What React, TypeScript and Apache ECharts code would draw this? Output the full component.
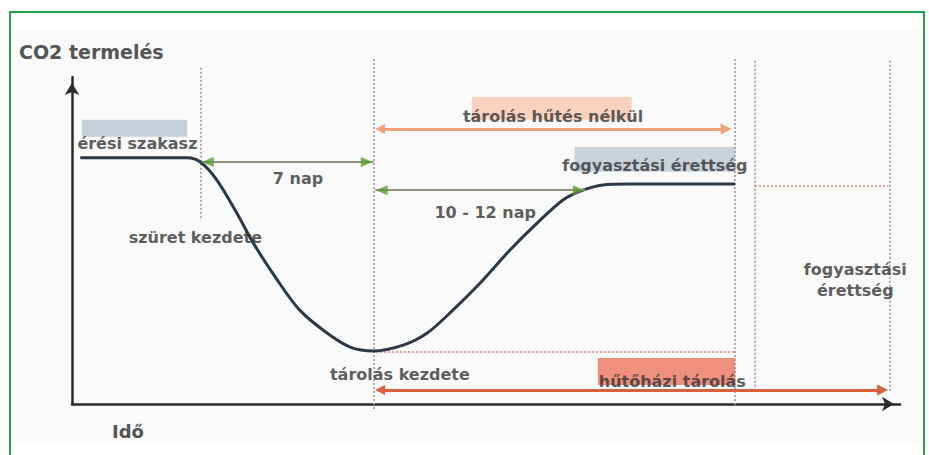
import React, { useEffect, useRef } from "react";
import * as echarts from "echarts";

// Curve: CO2 production over time (abstract units, 0..100)
const curveTime = [1, 13.9, 15.5, 17.5, 19.9, 21.9, 24.8, 27.5, 30.8, 33.6, 36.4, 40, 42.9, 46, 49.3, 52.9, 56.2, 59.3, 61.7, 64.1, 67.4, 80.1];
const curveCO2 = [75.3, 75.3, 74, 68.5, 58.4, 49.2, 37.9, 28.7, 21.7, 17.4, 16.2, 18, 21.7, 28.7, 37, 47.1, 55.4, 62.4, 65.4, 67, 67.3, 67.3];

// Vertical dotted guides
const guideX = [15.5, 36.4, 80.1, 82.4, 98.8];
const guideTop = [102.8, 105.5, 105.5, 105, 105];
const guideBottom = [56.3, -1.8, -0.3, 4.3, 4];

// Horizontal dotted levels
const levelY = [66.7, 15.9];
const levelFrom = [82.5, 36.7];
const levelTo = [98.6, 80.1];

// Arrow spans
const coolFreeY = 84.1, coolFreeFrom = 37.2, coolFreeTo = 79.0;
const coldY = 4.3, coldFrom = 37.2, coldTo = 97.9;
const greenY = [74.0, 65.4];
const greenFrom = [15.7, 36.6];
const greenTo = [36.4, 62.0];
const greenHeadX = [16.4, 35.6, 37.4, 61.2];
const greenHeadY = [74.0, 74.0, 65.4, 65.4];
const greenHeadDir = [90, -90, 90, -90];

// Highlight boxes behind labels
const boxFrom = [[1.2, 81.7], [48.3, 86.9], [60.7, 71.0], [63.5, 5.8]];
const boxTo = [[13.9, 86.9], [67.6, 93.9], [80.1, 78.6], [80.1, 14.1]];
const boxColors = ["#c6d0da", "#f9d3c0", "#c9d2db", "#ee907d"];

// Labels
const labelNames = [
  "érési szakasz",
  "7 nap",
  "tárolás hűtés nélkül",
  "fogyasztási érettség",
  "10 - 12 nap",
  "szüret kezdete",
  "tárolás kezdete",
  "hűtőházi tárolás",
  "fogyasztási\nérettség",
];
const labelX = [7.9, 27.3, 58.1, 70.4, 49.9, 14.9, 39.6, 72.5, 94.6];
const labelY = [79.8, 69.1, 87.8, 72.8, 58.7, 50.8, 8.9, 7.0, 37.9];

const FONT = "'DejaVu Sans', 'Noto Sans', sans-serif";

export default function App() {
  const ref = useRef<HTMLDivElement>(null);
  useEffect(() => {
    if (!ref.current) return;
    const chart = echarts.init(ref.current, undefined, { renderer: "svg" });
    const axisCommon = {
      type: "value",
      min: 0,
      max: 100,
      axisLine: {
        show: true,
        onZero: false,
        symbol: ["none", "arrow"],
        symbolSize: [11, 12],
        symbolOffset: [0, -6],
        lineStyle: { color: "#2b2b2b", width: 2.5 },
      },
      axisTick: { show: false },
      axisLabel: { show: false },
      splitLine: { show: false },
    };
    const option: any = {
      animation: false,
      backgroundColor: "#ffffff",
      grid: { left: 72, top: 77, width: 828, height: 327 },
      xAxis: { ...axisCommon },
      yAxis: { ...axisCommon },
      graphic: [
        {
          type: "rect",
          z: -10,
          silent: true,
          shape: { x: 13, y: 30, width: 908, height: 415 },
          style: { fill: "#fafafa" },
        },
        {
          type: "rect",
          z: -9,
          silent: true,
          shape: { x: 10, y: 12, width: 914, height: 470 },
          style: { fill: "none", stroke: "#22a350", lineWidth: 2 },
        },
        {
          type: "text",
          x: 19,
          y: 52,
          style: {
            text: "CO2 termelés",
            fill: "#555555",
            font: `bold 19px ${FONT}`,
            verticalAlign: "middle",
          },
        },
        {
          type: "text",
          x: 112,
          y: 431,
          style: {
            text: "Idő",
            fill: "#555555",
            font: `bold 18px ${FONT}`,
            verticalAlign: "middle",
          },
        },
      ],
      series: [
        {
          type: "lines",
          coordinateSystem: "cartesian2d",
          clip: false,
          silent: true,
          z: 1,
          lineStyle: { color: "#a48c8c", width: 1.5, type: [2, 2], opacity: 1 },
          data: guideX.map((x, i) => ({ coords: [[x, guideTop[i]], [x, guideBottom[i]]] })),
        },
        {
          type: "lines",
          coordinateSystem: "cartesian2d",
          clip: false,
          silent: true,
          z: 1,
          lineStyle: { color: "#d98080", width: 1.5, type: [2, 2], opacity: 1 },
          data: levelY.map((y, i) => ({ coords: [[levelFrom[i], y], [levelTo[i], y]] })),
        },
        {
          type: "line",
          data: curveTime.map((t, i) => [t, curveCO2[i]]),
          smooth: 0.3,
          showSymbol: false,
          symbol: "none",
          clip: false,
          silent: true,
          z: 3,
          lineStyle: { color: "#2c3846", width: 3 },
          markArea: {
            silent: true,
            z: 1,
            data: boxFrom.map((f, i) => [
              { coord: f, itemStyle: { color: boxColors[i] } },
              { coord: boxTo[i] },
            ]),
          },
        },
        {
          type: "lines",
          coordinateSystem: "cartesian2d",
          clip: false,
          silent: true,
          z: 4,
          symbol: ["triangle", "triangle"],
          symbolSize: [10, 11],
          lineStyle: { color: "#f2a37c", width: 3, opacity: 1 },
          data: [{ coords: [[coolFreeFrom, coolFreeY], [coolFreeTo, coolFreeY]] }],
        },
        {
          type: "lines",
          coordinateSystem: "cartesian2d",
          clip: false,
          silent: true,
          z: 4,
          symbol: ["triangle", "triangle"],
          symbolSize: [10, 11],
          lineStyle: { color: "#d9603c", width: 3, opacity: 1 },
          data: [{ coords: [[coldFrom, coldY], [coldTo, coldY]] }],
        },
        {
          type: "lines",
          coordinateSystem: "cartesian2d",
          clip: false,
          silent: true,
          z: 4,
          lineStyle: { color: "#8f9478", width: 2, opacity: 1 },
          data: greenY.map((y, i) => ({ coords: [[greenFrom[i], y], [greenTo[i], y]] })),
        },
        {
          type: "scatter",
          clip: false,
          silent: true,
          z: 5,
          symbol: "triangle",
          symbolSize: [10, 12],
          itemStyle: { color: "#5a9a32" },
          data: greenHeadX.map((x, i) => ({ value: [x, greenHeadY[i]], symbolRotate: greenHeadDir[i] })),
        },
        {
          type: "scatter",
          clip: false,
          silent: true,
          z: 6,
          symbolSize: 0,
          itemStyle: { color: "transparent" },
          label: {
            show: true,
            position: "inside",
            formatter: "{b}",
            color: "#333333",
            fontSize: 16,
            fontWeight: "bold",
            fontFamily: FONT,
            lineHeight: 21,
            align: "center",
          },
          data: labelNames.map((n, i) => ({ name: n, value: [labelX[i], labelY[i]] })),
        },
      ],
    };
    chart.setOption(option);
    return () => chart.dispose();
  }, []);
  return (
    <div
      ref={ref}
      style={{ position: "fixed", left: 0, top: 0, width: 929, height: 455 }}
    />
  );
}
